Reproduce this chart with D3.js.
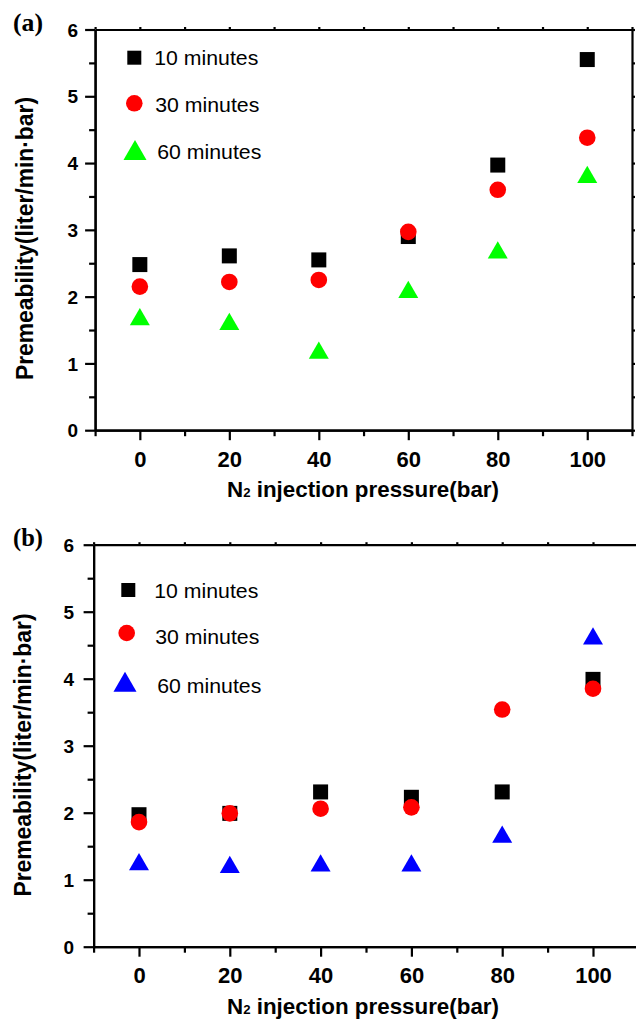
<!DOCTYPE html>
<html lang="en">
<head>
<meta charset="UTF-8">
<title>Permeability vs N2 injection pressure</title>
<style>
  body { margin: 0; background: #fff; }
  svg { display: block; }
  .axis path, .axis line { stroke: #000; stroke-width: 2.2; }
  .axis text { fill: #000; font-family: "Liberation Sans", Arial, sans-serif; font-weight: bold; }
</style>
</head>
<body>
<div id="chart"></div>
<script src="https://cdn.jsdelivr.net/npm/d3@7"></script>
<script>
// data
let pressure = [0, 20, 40, 60, 80, 100]
let seriesNames = ['10 minutes', '30 minutes', '60 minutes']
// panel (a)
let a10 = [2.48, 2.61, 2.55, 2.90, 3.97, 5.55]
let a30 = [2.15, 2.22, 2.25, 2.97, 3.60, 4.38]
let a60 = [1.70, 1.63, 1.20, 2.11, 2.70, 3.83]
// panel (b)
let b10 = [1.97, 1.99, 2.31, 2.23, 2.31, 3.99]
let b30 = [1.86, 1.99, 2.06, 2.08, 3.54, 3.85]
let b60 = [1.27, 1.23, 1.25, 1.25, 1.68, 4.64]
let xTicks = [0, 20, 40, 60, 80, 100]
let yTicks = [0, 1, 2, 3, 4, 5, 6]

let xtitleMain = 'N'
let xtitleSub = '2'
let xtitleRest = ' injection pressure(bar)'
let ytitle = 'Premeability(liter/min·bar)'

let width = 636
let height = 1023
let svg = d3.select('#chart').append('svg').attr('width', width).attr('height', height)

function drawMarker(g, kind, color, x, y, big) {
  if (kind === 'square') {
    let s = big ? 14 : 15
    g.append('rect').attr('x', x - s / 2).attr('y', y - s / 2).attr('width', s).attr('height', s).attr('fill', color)
  } else if (kind === 'circle') {
    g.append('circle').attr('cx', x).attr('cy', y).attr('r', 8.3).attr('fill', color)
  } else {
    let size = big ? 230 : 173
    let ty = Math.sqrt(size / (Math.sqrt(3) * 3))
    // shift so the bounding box (not centroid) sits on the point
    g.append('path')
      .attr('d', d3.symbol().type(d3.symbolTriangle).size(size)())
      .attr('transform', 'translate(' + x + ',' + (y + ty / 2) + ')')
      .attr('fill', color)
  }
}

function drawPanel(p) {
  let x = d3.scaleLinear().domain([-10, 110]).range([p.left, p.right])
  let y = d3.scaleLinear().domain([0, 6]).range([p.bottom, p.top])
  let g = svg.append('g')

  // minor ticks
  g.append('g').attr('class', 'axis').attr('transform', 'translate(0,' + p.bottom + ')')
    .call(d3.axisBottom(x).tickValues([-10, 10, 30, 50, 70, 90, 110]).tickSize(6).tickSizeOuter(0).tickFormat(''))
  g.append('g').attr('class', 'axis').attr('transform', 'translate(' + p.left + ',0)')
    .call(d3.axisLeft(y).tickValues([0.5, 1.5, 2.5, 3.5, 4.5, 5.5]).tickSize(6).tickSizeOuter(0).tickFormat(''))

  // major ticks + labels
  let xa = g.append('g').attr('class', 'axis').attr('transform', 'translate(0,' + p.bottom + ')')
    .call(d3.axisBottom(x).tickValues(xTicks).tickSize(10).tickSizeOuter(0))
  xa.selectAll('text').attr('y', 36.7).attr('dy', null).style('font-size', '22px')

  let ya = g.append('g').attr('class', 'axis').attr('transform', 'translate(' + p.left + ',0)')
    .call(d3.axisLeft(y).tickValues(yTicks).tickSize(10).tickSizeOuter(0).tickFormat(d3.format('d')))
  ya.selectAll('text').attr('x', -(p.left - p.labelRight)).attr('dy', '6.6').style('font-size', '19px')

  // top and right frame with small ticks
  g.append('g').attr('class', 'axis').attr('transform', 'translate(0,' + p.top + ')')
    .call(d3.axisTop(x).ticks(12).tickSize(2.5).tickSizeOuter(0).tickFormat(''))
  g.append('g').attr('class', 'axis').attr('transform', 'translate(' + p.right + ',0)')
    .call(d3.axisRight(y).tickValues(d3.range(0, 6.01, 0.5)).tickSize(3).tickSizeOuter(0).tickFormat(''))

  // points: squares, circles, triangles
  let marks = g.append('g')
  p.series.forEach(s => {
    s.values.forEach((v, i) => {
      drawMarker(marks, s.kind, s.color, x(pressure[i]), y(v), false)
    })
  })

  // legend
  p.series.forEach((s, si) => {
    let L = p.legend[si]
    drawMarker(g, s.kind, s.color, L.sx, L.sy, true)
    g.append('text').text(seriesNames[si])
      .attr('x', L.tx).attr('y', L.ty)
      .attr('textLength', 104).attr('lengthAdjust', 'spacingAndGlyphs')
      .style('font-family', '"Liberation Sans", Arial, sans-serif')
      .style('font-size', '19.5px')
  })

  // x title with subscript
  let xt = g.append('text').attr('x', 227).attr('y', p.bottom + 67)
    .attr('textLength', 272).attr('lengthAdjust', 'spacingAndGlyphs')
    .style('font-family', '"Liberation Sans", Arial, sans-serif')
    .style('font-weight', 'bold').style('font-size', '22px')
  xt.append('tspan').text(xtitleMain)
  xt.append('tspan').text(xtitleSub).style('font-size', '13px')
  xt.append('tspan').text(xtitleRest)

  // y title
  g.append('text').text(ytitle)
    .attr('transform', 'translate(' + p.ytitleX + ',' + p.ytitleY + ') rotate(-90)')
    .attr('text-anchor', 'middle')
    .attr('textLength', 283).attr('lengthAdjust', 'spacingAndGlyphs')
    .style('font-family', '"Liberation Sans", Arial, sans-serif')
    .style('font-weight', 'bold').style('font-size', '23px')

  // panel letter
  g.append('text').text(p.label)
    .attr('x', 13).attr('y', p.top + 1.5)
    .attr('textLength', 30).attr('lengthAdjust', 'spacingAndGlyphs')
    .style('font-family', '"Liberation Serif", "Times New Roman", serif')
    .style('font-weight', 'bold').style('font-size', '25px')
}

drawPanel({
  label: '(a)', left: 95.1, right: 632, top: 29.5, bottom: 430.2, labelRight: 78,
  ytitleX: 33, ytitleY: 238.5,
  series: [
    { kind: 'square', color: '#000000', values: a10 },
    { kind: 'circle', color: '#ff0000', values: a30 },
    { kind: 'triangle', color: '#00ff00', values: a60 }
  ],
  legend: [
    { sx: 134.3, sy: 57.7, tx: 154.3, ty: 64.7 },
    { sx: 134.3, sy: 103.3, tx: 155.3, ty: 111.7 },
    { sx: 135, sy: 150, tx: 157.3, ty: 158.7 }
  ]
})

drawPanel({
  label: '(b)', left: 93.6, right: 638.4, top: 544.7, bottom: 946.7, labelRight: 74,
  ytitleX: 31, ytitleY: 755,
  series: [
    { kind: 'square', color: '#000000', values: b10 },
    { kind: 'circle', color: '#ff0000', values: b30 },
    { kind: 'triangle', color: '#0000ff', values: b60 }
  ],
  legend: [
    { sx: 128.3, sy: 590, tx: 154.3, ty: 597.5 },
    { sx: 126.7, sy: 633, tx: 155.3, ty: 644 },
    { sx: 125, sy: 681.7, tx: 157.3, ty: 692.5 }
  ]
})
</script>
</body>
</html>
